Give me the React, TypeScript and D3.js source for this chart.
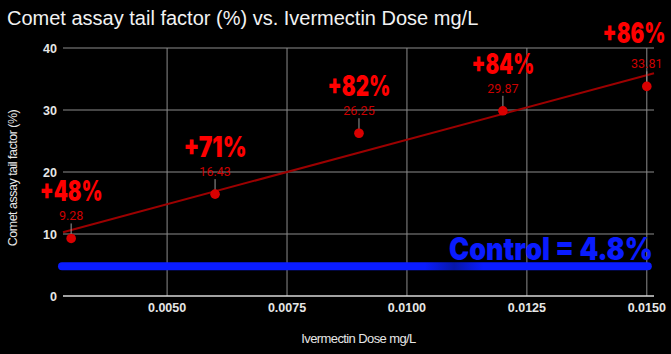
import * as d3 from "d3";

const doses = [0.003, 0.006, 0.009, 0.012, 0.015];
const tailFactor = [9.28, 16.43, 26.25, 29.87, 33.81];
const increaseLabels = ["+48%", "+71%", "+82%", "+84%", "+86%"];
const controlValue = 4.8;
const xTicks = [0.005, 0.0075, 0.01, 0.0125, 0.015];
const yTicks = [0, 10, 20, 30, 40];

const W = 671;
const H = 354;
const margin = { top: 48, right: 17, bottom: 58, left: 63 };
const heavy = "Inter, Lato, sans-serif";

export default function App() {
  const x = d3.scaleLinear().domain([0.00283, 0.01515]).range([margin.left, W - margin.right]);
  const y = d3.scaleLinear().domain([0, 40]).range([H - margin.bottom, margin.top]);

  // least squares trendline from the points
  const mx = d3.mean(doses)!;
  const my = d3.mean(tailFactor)!;
  const slope =
    d3.sum(doses, (d, i) => (d - mx) * (tailFactor[i] - my)) / d3.sum(doses, (d) => (d - mx) ** 2);
  const icpt = my - slope * mx;
  const [x0, x1] = x.domain();

  const data = doses.map((d, i) => ({ dose: d, value: tailFactor[i], label: increaseLabels[i] }));

  return (
    <svg
      width={W}
      height={H}
      style={{ position: "absolute", left: 0, top: 0, display: "block", background: "#000" }}
    >
      <defs>
        <linearGradient id="ctl" x1={x(x0)} x2={x(0.015)} y1={0} y2={0} gradientUnits="userSpaceOnUse">
          <stop offset="0" stopColor="#0a1cff" />
          <stop offset="0.62" stopColor="#0a1cff" />
          <stop offset="0.67" stopColor="#0717a8" />
          <stop offset="0.72" stopColor="#0a1cff" />
          <stop offset="1" stopColor="#0a1cff" />
        </linearGradient>
      </defs>
      <rect width={W} height={H} fill="#000" />

      <text x={7} y={25} fill="#f2f2f2" fontFamily="Liberation Sans, Arial, sans-serif" fontSize={20}>
        Comet assay tail factor (%) vs. Ivermectin Dose mg/L
      </text>

      {/* grid */}
      {yTicks.slice(1).map((t) => (
        <line key={"gy" + t} x1={margin.left} x2={W - margin.right} y1={y(t)} y2={y(t)} stroke="#8c8c8c" strokeWidth={1} />
      ))}
      {xTicks.map((t) => (
        <line key={"gx" + t} x1={x(t)} x2={x(t)} y1={margin.top} y2={y(0)} stroke="#8c8c8c" strokeWidth={1} />
      ))}
      <line x1={margin.left} x2={W - margin.right} y1={y(0)} y2={y(0)} stroke="#d9d9d9" strokeWidth={1.5} />

      {/* tick labels */}
      {yTicks.map((t) => (
        <text
          key={"ty" + t}
          x={margin.left - 6}
          y={y(t) + 4.5}
          textAnchor="end"
          fill="#e6e6e6"
          fontFamily="Liberation Sans, Arial, sans-serif"
          fontSize={12.5}
          fontWeight="bold"
        >
          {t}
        </text>
      ))}
      {xTicks.map((t) => (
        <text
          key={"tx" + t}
          x={x(t)}
          y={312}
          textAnchor="middle"
          fill="#e6e6e6"
          fontFamily="Liberation Sans, Arial, sans-serif"
          fontSize={12.5}
          fontWeight="bold"
        >
          {d3.format(".4f")(t)}
        </text>
      ))}

      <text
        x={(margin.left + W - margin.right) / 2}
        y={343}
        textAnchor="middle"
        fill="#e6e6e6"
        fontFamily="Liberation Sans, Arial, sans-serif"
        fontSize={13}
        letterSpacing={-0.6}
      >
        Ivermectin Dose mg/L
      </text>
      <text
        transform={`translate(17,${(margin.top + y(0)) / 2 + 6}) rotate(-90)`}
        textAnchor="middle"
        fill="#e6e6e6"
        fontFamily="Liberation Sans, Arial, sans-serif"
        fontSize={12.5}
        letterSpacing={-0.5}
      >
        Comet assay tail factor (%)
      </text>

      {/* control line */}
      <line
        x1={margin.left - 1}
        x2={x(0.015) + 1}
        y1={y(controlValue)}
        y2={y(controlValue)}
        stroke="url(#ctl)"
        strokeWidth={8}
        strokeLinecap="round"
      />
      <text
        x={653}
        y={260}
        textAnchor="end"
        fill="#0a1cff"
        fontFamily={heavy}
        fontWeight={900}
        fontSize={31}
        textLength={204}
        lengthAdjust="spacingAndGlyphs"
      >
        Control = 4.8%
      </text>

      {/* trendline */}
      <line
        x1={x(x0)}
        x2={x(x1)}
        y1={y(icpt + slope * x0)}
        y2={y(icpt + slope * x1)}
        stroke="#9c0000"
        strokeWidth={2}
      />

      {/* points and labels */}
      {data.map((d) => {
        const px = x(d.dose);
        const py = y(d.value);
        const clamped = px > 634;
        return (
          <g key={d.dose}>
            <line x1={px} x2={px} y1={py - 15} y2={py} stroke="#9a9a9a" strokeWidth={1} />
            <circle cx={px} cy={py} r={4.8} fill="#d90000" />
            <text
              x={px}
              y={py - 18}
              textAnchor="middle"
              fill="#cc0000"
              fontFamily="Roboto, sans-serif"
              fontSize={12.5}
            >
              {d3.format(".2f")(d.value)}
            </text>
            <text
              x={clamped ? 634 : px}
              y={py - 37 - (clamped ? 6 : 0)}
              textAnchor="middle"
              fill="#ff0000"
              fontFamily={heavy}
              fontWeight={900}
              fontSize={28}
              textLength={63}
              lengthAdjust="spacingAndGlyphs"
            >
              {d.label}
            </text>
          </g>
        );
      })}
    </svg>
  );
}
